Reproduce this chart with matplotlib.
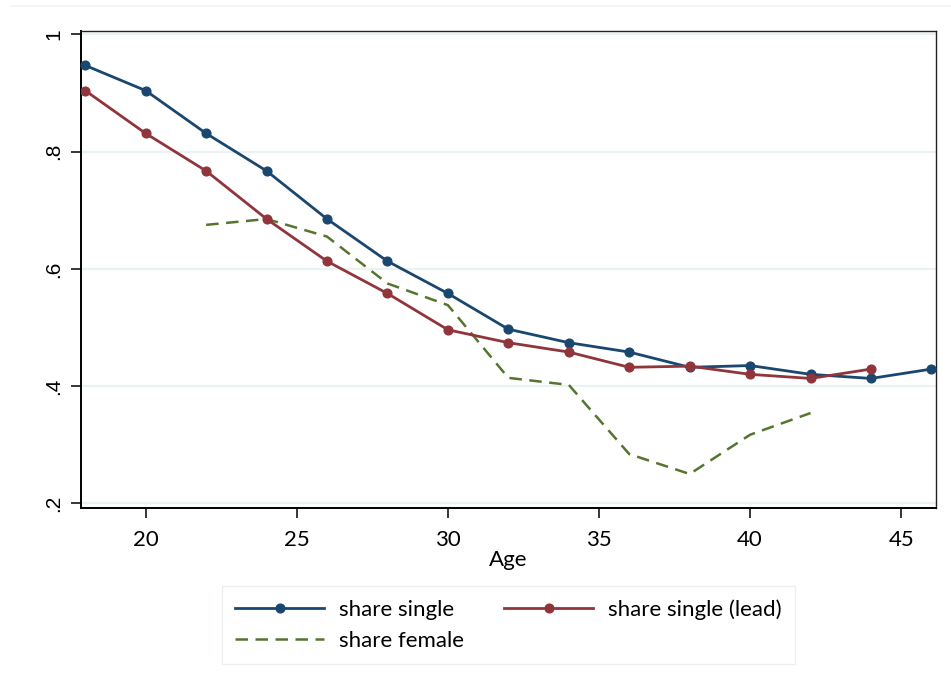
import matplotlib
matplotlib.use("Agg")
import matplotlib.pyplot as plt
from matplotlib.lines import Line2D

# Share of people single by age, its one-step lead, and share female
age = [18, 20, 22, 24, 26, 28, 30, 32, 34, 36, 38, 40, 42, 44, 46]
share_single = [0.947, 0.904, 0.831, 0.767, 0.685, 0.613, 0.558, 0.497,
                0.474, 0.458, 0.432, 0.435, 0.420, 0.413, 0.429]

age_lead = [18, 20, 22, 24, 26, 28, 30, 32, 34, 36, 38, 40, 42, 44]
share_single_lead = [0.904, 0.831, 0.767, 0.685, 0.613, 0.558, 0.496, 0.474,
                     0.458, 0.432, 0.434, 0.420, 0.413, 0.429]

age_female = [22, 24, 26, 28, 30, 32, 34, 36, 38, 40, 42]
share_female = [0.675, 0.685, 0.655, 0.575, 0.538, 0.414, 0.402, 0.284,
                0.250, 0.317, 0.354]

x_ticks = [20, 25, 30, 35, 40, 45]
y_ticks = [0.2, 0.4, 0.6, 0.8, 1.0]
y_tick_labels = [".2", ".4", ".6", ".8", "1"]

NAVY = "#1a476f"
MAROON = "#90353b"
GREEN = "#55752f"
GRID = "#eaf2f3"

plt.rcParams["font.family"] = ["Lato", "DejaVu Sans"]

fig = plt.figure(figsize=(9.51, 6.92), dpi=100)
fig.patch.set_facecolor("white")
ax = fig.add_axes([0.0852, 0.2659, 0.8990, 0.6893])

ax.set_xlim(17.86, 46.15)
ax.set_ylim(0.192, 1.0057)

for yv in y_ticks:
    ax.axhline(yv, color=GRID, lw=1.6, zorder=0)

ax.plot(age, share_single, color=NAVY, lw=2.0, marker="o", ms=6.3,
        label="share single", zorder=3, clip_on=False)
ax.plot(age_lead, share_single_lead, color=MAROON, lw=2.0, marker="o", ms=6.3,
        label="share single (lead)", zorder=3)
ax.plot(age_female, share_female, color=GREEN, lw=1.8, dashes=(5, 3),
        label="share female", zorder=2)

ax.set_xticks(x_ticks)
ax.set_xticklabels([str(v) for v in x_ticks], fontsize=16)
ax.set_yticks(y_ticks)
ax.set_yticklabels(y_tick_labels, rotation=90, va="center",
                   fontsize=15, family=["Liberation Sans", "DejaVu Sans"])
ax.tick_params(axis="both", direction="out", length=7, width=1.1,
               color="black", pad=6)
ax.tick_params(axis="x", pad=9)

for side in ["left", "bottom"]:
    ax.spines[side].set_linewidth(1.4)
for side in ["top", "right"]:
    ax.spines[side].set_linewidth(1.0)
    ax.spines[side].set_color("#222222")

ax.set_xlabel("Age", fontsize=16, labelpad=0)

handles = [
    Line2D([], [], color=NAVY, lw=2.0, marker="o", ms=6.3),
    Line2D([], [], color=GREEN, lw=1.8, dashes=(5, 3)),
    Line2D([], [], color=MAROON, lw=2.0, marker="o", ms=6.3),
]
labels = ["share single", "share female", "share single (lead)"]
leg = fig.legend(handles, labels, ncol=2, loc="center",
                 bbox_to_anchor=(0.5347, 0.0968), fontsize=16,
                 frameon=True, fancybox=False, edgecolor="#e6eeee",
                 handlelength=4.0, handletextpad=0.68, columnspacing=1.8,
                 labelspacing=0.5, borderpad=0.58, numpoints=1)
leg.get_frame().set_linewidth(1.0)

# faint outer border line along the top
fig.add_artist(Line2D([0.012, 1.0], [0.9913, 0.9913], color="#eef3f3",
                      lw=1.2, transform=fig.transFigure))

fig.savefig("out.png", dpi=100, facecolor="white")
